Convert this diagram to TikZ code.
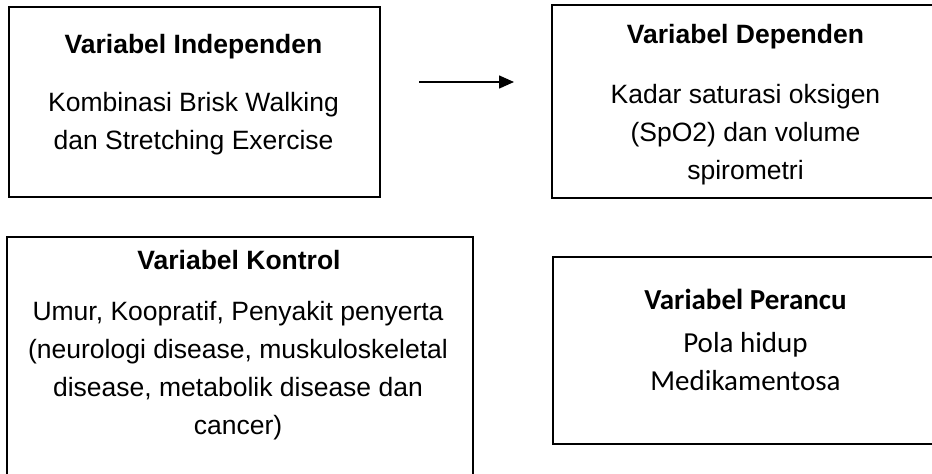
\documentclass[tikz,border=0pt]{standalone}
\usepackage{fontspec}
\setmainfont{Liberation Sans}
\newfontfamily\calibrifont{Carlito}
\usetikzlibrary{positioning, arrows.meta}

\begin{document}
\begin{tikzpicture}[x=1pt, y=-1pt, >={Triangle[length=15pt, width=13pt]},
    varbox/.style={draw, rectangle, line width=2.6pt, inner sep=0pt},
    vartitle/.style={anchor=base, inner sep=0pt, font=\fontsize{26.5}{38}\selectfont\bfseries},
    vartext/.style={anchor=base, inner sep=0pt, align=center, font=\fontsize{26.5}{38}\selectfont},
    cbtitle/.style={anchor=base, inner sep=0pt, font=\calibrifont\fontsize{29}{38}\selectfont\bfseries},
    cbtext/.style={anchor=base, inner sep=0pt, align=center, font=\calibrifont\fontsize{29}{38}\selectfont}]
    \useasboundingbox (0,0) rectangle (932,474);

    % boxes
    \node[varbox, minimum width=371pt, minimum height=190pt] (Independen) at (194.5,102) {};
    \node[varbox, minimum width=387pt, minimum height=193pt] (Dependen) at (745.5,101.5) {};
    \node[varbox, minimum width=466pt, minimum height=253pt] (Kontrol) at (240,363.5) {};
    \node[varbox, minimum width=385pt, minimum height=187pt] (Perancu) at (745.5,350.5) {};

    % texts (multi-line nodes sit on the baseline of their last line)
    \node[vartitle] (IndepTitle) at (193.5,53.5) {Variabel Independen};
    \node[vartext] (IndepText) at (193.5,149.5) {Kombinasi Brisk Walking\\dan Stretching Exercise};
    \node[vartitle] (DepTitle) at (745.5,43.5) {Variabel Dependen};
    \node[vartext] (DepText) at (745.5,179.5) {Kadar saturasi oksigen\\(SpO2) dan volume\\spirometri};
    \node[vartitle] (KontrolTitle) at (239,269.5) {Variabel Kontrol};
    \node[vartext] (KontrolText) at (238,434.5) {Umur, Koopratif, Penyakit penyerta\\(neurologi disease, muskuloskeletal\\disease, metabolik disease dan\\cancer)};
    \node[cbtitle] (PerancuTitle) at (745.5,309.3) {Variabel Perancu};
    \node[cbtext] (PerancuText) at (745.5,390.3) {Pola hidup\\Medikamentosa};

    % arrow
    \coordinate (ArrowStart) at (419,82);
    \coordinate (ArrowEnd) at (514,82);
    \draw[->, line width=1.5pt] (ArrowStart) -- (ArrowEnd);
\end{tikzpicture}
\end{document}
